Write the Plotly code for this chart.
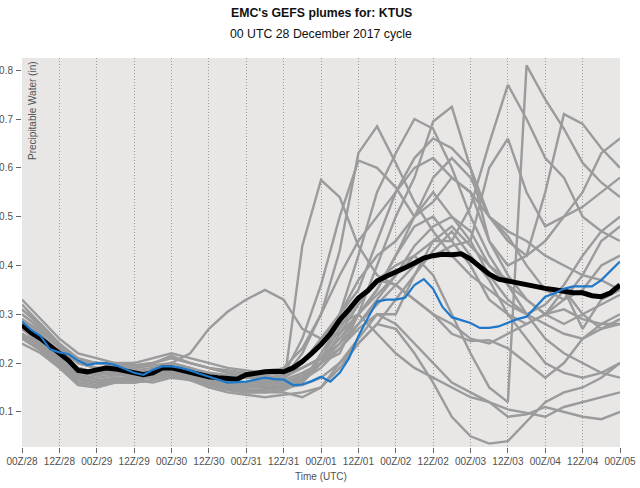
import plotly.graph_objects as go

# ---------------- data ----------------
tick_hours = list(range(0, 193, 12))
tick_labels = ["00Z/28", "12Z/28", "00Z/29", "12Z/29", "00Z/30", "12Z/30", "00Z/31", "12Z/31",
               "00Z/01", "12Z/01", "00Z/02", "12Z/02", "00Z/03", "12Z/03", "00Z/04", "12Z/04", "00Z/05"]
y_ticks = [0.1, 0.2, 0.3, 0.4, 0.5, 0.6, 0.7, 0.8]

hours_3h = list(range(0, 193, 3))
hours_6h = list(range(0, 193, 6))

ens_mean = [0.278, 0.262, 0.250, 0.235, 0.222, 0.205, 0.185, 0.182, 0.186, 0.190, 0.188, 0.184, 0.180,
            0.176, 0.180, 0.190, 0.190, 0.185, 0.181, 0.176, 0.172, 0.170, 0.168, 0.167, 0.176, 0.180,
            0.182, 0.183, 0.182, 0.190, 0.203, 0.220, 0.238, 0.260, 0.288, 0.310, 0.333, 0.348, 0.368,
            0.378, 0.386, 0.395, 0.405, 0.415, 0.420, 0.423, 0.422, 0.424, 0.413, 0.398, 0.382, 0.372,
            0.368, 0.364, 0.360, 0.355, 0.353, 0.350, 0.347, 0.344, 0.344, 0.338, 0.336, 0.344, 0.360]

control = [0.285, 0.268, 0.255, 0.228, 0.222, 0.218, 0.205, 0.196, 0.200, 0.200, 0.196, 0.188, 0.180,
           0.176, 0.186, 0.193, 0.193, 0.190, 0.185, 0.178, 0.172, 0.166, 0.160, 0.161, 0.162, 0.166,
           0.170, 0.167, 0.166, 0.155, 0.156, 0.163, 0.172, 0.162, 0.180, 0.210, 0.255, 0.292, 0.326,
           0.330, 0.330, 0.334, 0.360, 0.372, 0.352, 0.315, 0.294, 0.288, 0.282, 0.272, 0.272, 0.275,
           0.283, 0.290, 0.295, 0.316, 0.336, 0.343, 0.352, 0.357, 0.357, 0.357, 0.370, 0.388, 0.408]

mem_01 = [0.30, 0.27, 0.23, 0.20, 0.19, 0.185, 0.18, 0.185, 0.195, 0.18, 0.17, 0.16, 0.155, 0.15, 0.15,
          0.44, 0.575, 0.54, 0.44, 0.38, 0.36, 0.33, 0.30, 0.28, 0.25, 0.24, 0.26, 0.28, 0.30, 0.28, 0.30, 0.32, 0.34]
mem_02 = [0.28, 0.25, 0.21, 0.19, 0.18, 0.18, 0.17, 0.175, 0.185, 0.175, 0.165, 0.155, 0.15, 0.16, 0.17,
          0.22, 0.30, 0.43, 0.63, 0.685, 0.61, 0.53, 0.47, 0.42, 0.38, 0.35, 0.32, 0.30, 0.28, 0.26, 0.25, 0.27, 0.29]
mem_03 = [0.32, 0.28, 0.24, 0.21, 0.20, 0.195, 0.19, 0.20, 0.21, 0.20, 0.19, 0.18, 0.175, 0.17, 0.175,
          0.25, 0.36, 0.50, 0.615, 0.60, 0.56, 0.50, 0.53, 0.58, 0.55, 0.45, 0.40, 0.42, 0.45, 0.50, 0.52, 0.55, 0.58]
mem_04 = [0.26, 0.24, 0.20, 0.17, 0.16, 0.165, 0.165, 0.17, 0.18, 0.17, 0.16, 0.15, 0.145, 0.14, 0.145,
          0.16, 0.20, 0.30, 0.42, 0.55, 0.63, 0.70, 0.68, 0.60, 0.50, 0.42, 0.36, 0.30, 0.25, 0.22, 0.20, 0.18, 0.17]
mem_05 = [0.29, 0.26, 0.22, 0.19, 0.18, 0.175, 0.18, 0.18, 0.19, 0.185, 0.175, 0.165, 0.16, 0.16, 0.165,
          0.18, 0.20, 0.22, 0.30, 0.40, 0.50, 0.58, 0.695, 0.725, 0.60, 0.45, 0.38, 0.33, 0.30, 0.31, 0.29, 0.28, 0.28]
mem_06 = [0.25, 0.23, 0.20, 0.175, 0.165, 0.17, 0.165, 0.16, 0.17, 0.165, 0.155, 0.145, 0.14, 0.145, 0.15,
          0.17, 0.20, 0.26, 0.32, 0.37, 0.40, 0.42, 0.38, 0.30, 0.22, 0.15, 0.12, 0.81, 0.74, 0.68, 0.61, 0.57, 0.54]
mem_07 = [0.31, 0.28, 0.24, 0.20, 0.19, 0.19, 0.185, 0.19, 0.20, 0.19, 0.18, 0.175, 0.17, 0.17, 0.17,
          0.19, 0.21, 0.25, 0.30, 0.34, 0.38, 0.42, 0.45, 0.45, 0.52, 0.65, 0.77, 0.70, 0.62, 0.58, 0.50, 0.47, 0.45]
mem_08 = [0.27, 0.25, 0.215, 0.18, 0.175, 0.18, 0.175, 0.18, 0.19, 0.18, 0.17, 0.16, 0.16, 0.165, 0.17,
          0.20, 0.25, 0.30, 0.35, 0.45, 0.55, 0.62, 0.66, 0.64, 0.60, 0.50, 0.45, 0.42, 0.55, 0.71, 0.69, 0.64, 0.60]
mem_09 = [0.33, 0.29, 0.25, 0.22, 0.21, 0.20, 0.20, 0.21, 0.22, 0.21, 0.20, 0.19, 0.185, 0.18, 0.18,
          0.19, 0.21, 0.24, 0.28, 0.32, 0.36, 0.40, 0.42, 0.44, 0.45, 0.60, 0.66, 0.55, 0.48, 0.50, 0.55, 0.63, 0.66]
mem_10 = [0.24, 0.22, 0.19, 0.155, 0.15, 0.16, 0.16, 0.165, 0.175, 0.165, 0.15, 0.14, 0.135, 0.13, 0.135,
          0.14, 0.15, 0.19, 0.24, 0.28, 0.27, 0.22, 0.16, 0.09, 0.05, 0.035, 0.04, 0.08, 0.12, 0.14, 0.15, 0.17, 0.20]
mem_11 = [0.26, 0.235, 0.20, 0.16, 0.155, 0.165, 0.17, 0.17, 0.18, 0.17, 0.16, 0.15, 0.14, 0.14, 0.14,
          0.13, 0.15, 0.20, 0.25, 0.30, 0.28, 0.24, 0.20, 0.16, 0.14, 0.12, 0.09, 0.095, 0.11, 0.10, 0.09, 0.085, 0.10]
mem_12 = [0.27, 0.24, 0.205, 0.17, 0.16, 0.17, 0.17, 0.175, 0.185, 0.175, 0.165, 0.155, 0.15, 0.15, 0.155,
          0.16, 0.22, 0.28, 0.30, 0.26, 0.22, 0.19, 0.17, 0.15, 0.13, 0.12, 0.105, 0.098, 0.09, 0.11, 0.12, 0.13, 0.14]
mem_13 = [0.28, 0.255, 0.22, 0.185, 0.18, 0.18, 0.18, 0.185, 0.20, 0.19, 0.175, 0.165, 0.16, 0.16, 0.16,
          0.17, 0.21, 0.27, 0.33, 0.37, 0.36, 0.33, 0.30, 0.26, 0.245, 0.247, 0.23, 0.20, 0.17, 0.20, 0.25, 0.28, 0.30]
mem_14 = [0.29, 0.265, 0.23, 0.20, 0.19, 0.19, 0.19, 0.195, 0.20, 0.22, 0.27, 0.305, 0.33, 0.35, 0.33,
          0.27, 0.25, 0.26, 0.30, 0.35, 0.42, 0.48, 0.50, 0.45, 0.40, 0.33, 0.30, 0.28, 0.30, 0.35, 0.30, 0.27, 0.28]
mem_15 = [0.30, 0.27, 0.235, 0.20, 0.20, 0.20, 0.195, 0.20, 0.215, 0.20, 0.19, 0.185, 0.18, 0.18, 0.19,
          0.23, 0.30, 0.38, 0.45, 0.50, 0.55, 0.60, 0.62, 0.58, 0.55, 0.50, 0.47, 0.45, 0.42, 0.40, 0.38, 0.37, 0.35]
mem_16 = [0.25, 0.225, 0.19, 0.16, 0.155, 0.16, 0.16, 0.165, 0.175, 0.165, 0.155, 0.145, 0.14, 0.14, 0.145,
          0.16, 0.20, 0.24, 0.30, 0.35, 0.42, 0.50, 0.58, 0.62, 0.58, 0.50, 0.46, 0.40, 0.35, 0.33, 0.35, 0.40, 0.42]
mem_17 = [0.28, 0.25, 0.215, 0.185, 0.18, 0.185, 0.18, 0.185, 0.195, 0.185, 0.17, 0.16, 0.155, 0.155, 0.16,
          0.175, 0.20, 0.23, 0.27, 0.30, 0.30, 0.38, 0.45, 0.48, 0.44, 0.40, 0.37, 0.36, 0.35, 0.35, 0.27, 0.33, 0.35]
mem_18 = [0.31, 0.275, 0.235, 0.205, 0.20, 0.195, 0.195, 0.20, 0.21, 0.20, 0.19, 0.18, 0.175, 0.175, 0.18,
          0.20, 0.24, 0.30, 0.37, 0.42, 0.45, 0.50, 0.55, 0.50, 0.45, 0.38, 0.33, 0.30, 0.32, 0.36, 0.42, 0.47, 0.50]
mem_19 = [0.255, 0.23, 0.195, 0.165, 0.16, 0.165, 0.17, 0.17, 0.18, 0.17, 0.16, 0.15, 0.145, 0.145, 0.15,
          0.155, 0.17, 0.20, 0.24, 0.28, 0.33, 0.38, 0.43, 0.47, 0.42, 0.37, 0.30, 0.25, 0.20, 0.18, 0.17, 0.18, 0.20]
mem_20 = [0.27, 0.245, 0.21, 0.175, 0.17, 0.175, 0.175, 0.18, 0.19, 0.18, 0.17, 0.16, 0.155, 0.15, 0.155,
          0.165, 0.19, 0.23, 0.28, 0.33, 0.38, 0.44, 0.48, 0.50, 0.47, 0.40, 0.36, 0.33, 0.30, 0.33, 0.38, 0.45, 0.48]

members = [mem_01, mem_02, mem_03, mem_04, mem_05, mem_06, mem_07, mem_08, mem_09, mem_10,
           mem_11, mem_12, mem_13, mem_14, mem_15, mem_16, mem_17, mem_18, mem_19, mem_20]

# ---------------- figure ----------------
FONT = "Liberation Sans, Arial, sans-serif"
fig = go.Figure()

for m in members:
    fig.add_trace(go.Scatter(x=hours_6h, y=m, mode="lines",
                             line=dict(color="#9b9b9b", width=2.4),
                             hoverinfo="skip", showlegend=False))

fig.add_trace(go.Scatter(x=hours_3h, y=ens_mean, mode="lines",
                         line=dict(color="#000000", width=5),
                         showlegend=False))
fig.add_trace(go.Scatter(x=hours_3h, y=control, mode="lines",
                         line=dict(color="#1f78c8", width=2.2),
                         showlegend=False))

fig.update_layout(
    width=640, height=488,
    margin=dict(l=22, r=20, t=58, b=41, autoexpand=False),
    paper_bgcolor="#ffffff",
    plot_bgcolor="#e9e6e6",
    font=dict(family=FONT, size=10, color="#505050"),
    showlegend=False,
)

fig.update_xaxes(
    range=[0, 192], automargin=False,
    tickmode="array", tickvals=tick_hours, ticktext=tick_labels,
    ticks="outside", ticklen=5, tickcolor="#666666", tickwidth=1,
    tickfont=dict(family=FONT, size=10, color="#505050"),
    showgrid=True, gridcolor="#9a9a9a", griddash="1px,2px", gridwidth=1,
    zeroline=False, showline=False,
)
fig.update_yaxes(
    range=[0.028, 0.825], automargin=False,
    tickmode="array", tickvals=y_ticks, ticktext=[f"{v:.1f}" for v in y_ticks],
    ticks="outside", ticklen=5, tickcolor="#666666", tickwidth=1, ticklabelstandoff=1,
    tickfont=dict(family=FONT, size=10, color="#505050"),
    showgrid=False, zeroline=False, showline=False,
)

fig.add_annotation(text="<b>EMC's GEFS plumes for: KTUS</b>", xref="paper", yref="paper",
                   x=0.5, y=1, yshift=45, xanchor="center", yanchor="middle", showarrow=False,
                   font=dict(family=FONT, size=12.3, color="#111111"))
fig.add_annotation(text="00 UTC 28 December 2017 cycle", xref="paper", yref="paper",
                   x=0.5, y=1, yshift=24, xanchor="center", yanchor="middle", showarrow=False,
                   font=dict(family=FONT, size=12.3, color="#111111"))
fig.add_annotation(text="Time (UTC)", xref="paper", yref="paper",
                   x=0.5, y=0, yshift=-29, xanchor="center", yanchor="middle", showarrow=False,
                   font=dict(family=FONT, size=10, color="#505050"))
fig.add_annotation(text="Precipitable Water (in)", xref="paper", yref="paper",
                   x=0, y=1, xshift=3, yshift=-1, xanchor="left", yanchor="top", textangle=-90,
                   showarrow=False, font=dict(family=FONT, size=10, color="#505050"))

fig.write_html("out.html", config={"displayModeBar": False},
               post_script="document.body.style.margin='0';document.body.style.overflow='hidden';")
